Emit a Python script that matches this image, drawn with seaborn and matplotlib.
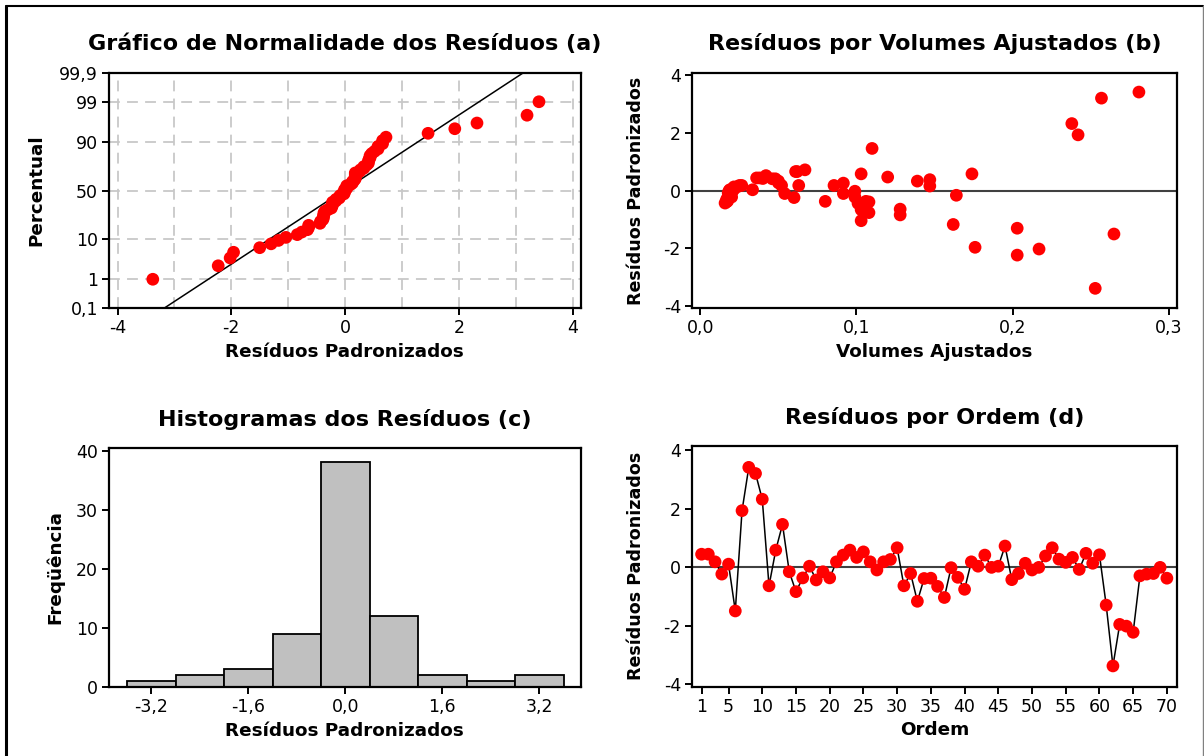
import numpy as np
import pandas as pd
import matplotlib
matplotlib.use("Agg")
import matplotlib.pyplot as plt
import matplotlib.ticker as mticker
from matplotlib.lines import Line2D
import seaborn as sns
from statistics import NormalDist

# Standardized residuals, in observation order (1..70)
residuos = [0.44, 0.44, 0.18, -0.24, 0.10, -1.50, 1.93, 3.41, 3.20, 2.32,
            -0.64, 0.58, 1.46, -0.16, -0.84, -0.37, 0.03, -0.44, -0.16, -0.37,
            0.18, 0.41, 0.58, 0.33, 0.52, 0.18, -0.10, 0.18, 0.26, 0.66,
            -0.64, -0.22, -1.17, -0.39, -0.38, -0.66, -1.04, -0.02, -0.35, -0.76,
            0.18, 0.03, 0.41, -0.01, 0.03, 0.72, -0.43, -0.22, 0.13, -0.10,
            -0.01, 0.38, 0.66, 0.27, 0.16, 0.33, -0.08, 0.47, 0.13, 0.42,
            -1.30, -3.38, -1.96, -2.02, -2.23, -0.30, -0.24, -0.22, -0.01, -0.38]

# Fitted volumes for the same observations
volumes_ajustados = [0.036, 0.038, 0.0250, 0.060, 0.0220, 0.265, 0.242, 0.281, 0.257, 0.238,
                     0.128, 0.174, 0.110, 0.164, 0.128, 0.106, 0.0334, 0.101, 0.0190, 0.080,
                     0.052, 0.048, 0.103, 0.139, 0.042, 0.063, 0.0916, 0.0856, 0.0916, 0.061,
                     0.104, 0.099, 0.162, 0.108, 0.0165, 0.103, 0.103, 0.099, 0.0175, 0.108,
                     0.0265, 0.0188, 0.046, 0.0183, 0.0212, 0.067, 0.0158, 0.0200, 0.0215, 0.054,
                     0.0195, 0.147, 0.062, 0.050, 0.147, 0.050, 0.0178, 0.120, 0.0235, 0.040,
                     0.203, 0.253, 0.176, 0.217, 0.203, 0.0168, 0.0180, 0.0185, 0.0205, 0.0170]

ordem = list(range(1, 71))

# Probability-axis ticks (percent) and their labels
pct_ticks = [0.1, 1, 10, 50, 90, 99, 99.9]
pct_labels = ["0,1", "1", "10", "50", "90", "99", "99,9"]
hist_edges = [-3.6, -2.8, -2.0, -1.2, -0.4, 0.4, 1.2, 2.0, 2.8, 3.6]
hist_ticks = [-3.2, -1.6, 0.0, 1.6, 3.2]
ordem_ticks = [1, 5, 10, 15, 20, 25, 30, 35, 40, 45, 50, 55, 60, 65, 70]

sns.set_style("ticks")
plt.rcParams["font.family"] = ["DejaVu Sans"]
plt.rcParams["axes.unicode_minus"] = False
plt.rcParams["text.color"] = "black"
plt.rcParams["axes.labelcolor"] = "black"
plt.rcParams["axes.titlecolor"] = "black"
plt.rcParams["xtick.color"] = "black"
plt.rcParams["ytick.color"] = "black"

RED = "#FF0000"
TITLE_KW = dict(fontsize=16, fontweight="bold", pad=16)
LABEL_KW = dict(fontsize=13.2, fontweight="bold")
MS = 84

fig = plt.figure(figsize=(12.04, 7.56), dpi=100)
W, H = 1204, 756


def add_axes_px(left, top, right, bottom):
    return fig.add_axes([left / W, 1 - bottom / H, (right - left) / W, (bottom - top) / H])


def style_axes(ax, ylabelpad=4):
    for s in ax.spines.values():
        s.set_linewidth(1.6)
        s.set_color("black")
    ax.tick_params(axis="both", direction="out", length=5, width=1.4,
                   labelsize=12.5, colors="black", pad=3)
    ax.yaxis.labelpad = ylabelpad
    ax.xaxis.labelpad = 4


def comma(fmt):
    return mticker.FuncFormatter(lambda v, p: (fmt % v).replace(".", ","))


df = pd.DataFrame({"ordem": ordem, "residuo": residuos, "ajustado": volumes_ajustados})
nd = NormalDist()

# (a) normal probability plot
ax_a = add_axes_px(109, 72.7, 580.5, 308.3)
n = len(residuos)
ord_res = np.sort(np.array(residuos))
pos = (np.arange(1, n + 1) - 0.3) / (n + 0.4)
zq = np.array([nd.inv_cdf(p) for p in pos])
mu, sd = float(np.mean(residuos)), float(np.std(residuos, ddof=1))
zl = np.linspace(-3.5, 3.5, 50)
ax_a.set_xlim(-4.15, 4.14)
ax_a.set_ylim(nd.inv_cdf(0.001), nd.inv_cdf(0.999))
for gx in range(-4, 5):
    ax_a.axvline(gx, color="#C8C8C8", lw=1.3, ls=(0, (6, 4)), zorder=0)
for gp in [1, 10, 50, 90, 99]:
    ax_a.axhline(nd.inv_cdf(gp / 100), color="#C8C8C8", lw=1.3, ls=(0, (6, 4)), zorder=0)
sns.lineplot(x=mu + sd * zl, y=zl, ax=ax_a, color="black", lw=1.1, zorder=2)
sns.scatterplot(x=ord_res, y=zq, ax=ax_a, color=RED, s=MS, edgecolor="none", zorder=3)
ax_a.set_yticks([nd.inv_cdf(p / 100) for p in pct_ticks])
ax_a.set_yticklabels(pct_labels)
ax_a.set_xticks([-4, -2, 0, 2, 4])
ax_a.set_title("Gráfico de Normalidade dos Resíduos (a)", **TITLE_KW)
ax_a.set_xlabel("Resíduos Padronizados", **LABEL_KW)
ax_a.set_ylabel("Percentual", **LABEL_KW)
style_axes(ax_a, ylabelpad=10)

# (b) residuals versus fitted volumes
ax_b = add_axes_px(692, 72.7, 1177, 308.3)
ax_b.axhline(0, color="#404040", lw=1.5, zorder=1)
sns.scatterplot(data=df, x="ajustado", y="residuo", ax=ax_b, color=RED, s=MS,
                edgecolor="none", zorder=3)
ax_b.set_xlim(-0.0054, 0.3054)
ax_b.set_ylim(-4.07, 4.08)
ax_b.set_xticks([0.0, 0.1, 0.2, 0.3])
ax_b.xaxis.set_major_formatter(comma("%.1f"))
ax_b.set_yticks([-4, -2, 0, 2, 4])
ax_b.set_title("Resíduos por Volumes Ajustados (b)", **TITLE_KW)
ax_b.set_xlabel("Volumes Ajustados", **LABEL_KW)
ax_b.set_ylabel("Resíduos Padronizados", fontsize=12.6, fontweight="bold")
style_axes(ax_b, ylabelpad=13)

# (c) histogram of residuals
ax_c = add_axes_px(109, 448, 580.5, 687)
sns.histplot(x=residuos, bins=hist_edges, ax=ax_c, color="#C0C0C0", edgecolor="black",
             linewidth=1.3, alpha=1.0)
ax_c.set_xlim(-3.9, 3.88)
ax_c.set_ylim(0, 40.45)
ax_c.set_xticks(hist_ticks)
ax_c.xaxis.set_major_formatter(comma("%.1f"))
ax_c.set_yticks([0, 10, 20, 30, 40])
ax_c.set_title("Histogramas dos Resíduos (c)", **TITLE_KW)
ax_c.set_xlabel("Resíduos Padronizados", **LABEL_KW)
ax_c.set_ylabel("Freqüência", **LABEL_KW)
style_axes(ax_c, ylabelpad=8)

# (d) residuals versus observation order
ax_d = add_axes_px(692, 446, 1177, 686.7)
ax_d.axhline(0, color="#404040", lw=1.5, zorder=1)
sns.lineplot(data=df, x="ordem", y="residuo", ax=ax_d, color="black", lw=1.1, zorder=2)
sns.scatterplot(data=df, x="ordem", y="residuo", ax=ax_d, color=RED, s=MS,
                edgecolor="none", zorder=3)
ax_d.set_xlim(-0.42, 71.5)
ax_d.set_ylim(-4.09, 4.14)
ax_d.set_xticks(ordem_ticks)
ax_d.set_yticks([-4, -2, 0, 2, 4])
ax_d.set_title("Resíduos por Ordem (d)", **TITLE_KW)
ax_d.set_xlabel("Ordem", **LABEL_KW)
ax_d.set_ylabel("Resíduos Padronizados", fontsize=12.6, fontweight="bold")
style_axes(ax_d, ylabelpad=13)

# Frame around the figure
fig.add_artist(Line2D([5.5 / W, 5.5 / W], [0, 1 - 6 / H], transform=fig.transFigure,
                      color="black", lw=2.2))
fig.add_artist(Line2D([5.5 / W, 1202.5 / W], [1 - 6 / H, 1 - 6 / H], transform=fig.transFigure,
                      color="black", lw=1.5))
fig.add_artist(Line2D([1202.5 / W, 1202.5 / W], [0, 1 - 6 / H], transform=fig.transFigure,
                      color="#808080", lw=1.0))

fig.savefig("out.png", dpi=100, facecolor="white")
